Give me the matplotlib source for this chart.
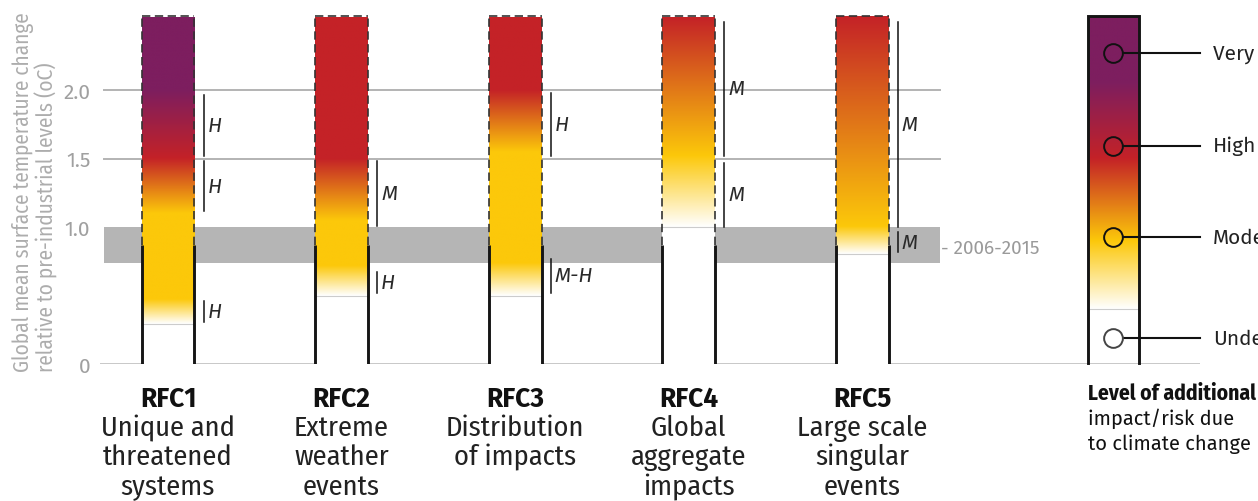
"""Reasons for concern (RFC1-5): risk level vs global mean warming, with confidence marks."""

import matplotlib
matplotlib.use("Agg")
import matplotlib.pyplot as plt
import numpy as np
from matplotlib.colors import to_rgb
from matplotlib.transforms import blended_transform_factory

COND = ["Fira Sans Condensed", "DejaVu Sans"]
REG = ["Fira Sans", "DejaVu Sans"]
plt.rcParams["font.family"] = REG

# --- data ------------------------------------------------------------------
RFC_NAMES = ["RFC1", "RFC2", "RFC3", "RFC4", "RFC5"]
RFC_DESC = [
    ["Unique and", "threatened", "systems"],
    ["Extreme", "weather", "events"],
    ["Distribution", "of impacts"],
    ["Global", "aggregate", "impacts"],
    ["Large scale", "singular", "events"],
]

# colour transitions of each bar: temperature (°C) -> risk colour
STOP_T = [
    [0.29, 0.47, 1.10, 1.50, 2.00, 2.53],
    [0.50, 0.72, 1.05, 1.50, 2.53],
    [0.50, 0.74, 1.55, 2.00, 2.53],
    [1.00, 1.52, 2.53],
    [0.80, 1.00, 2.53],
]
STOP_C = [
    ["white", "yellow", "yellow", "red", "purple", "purple"],
    ["white", "yellow", "yellow", "red", "red"],
    ["white", "yellow", "yellow", "red", "red"],
    ["white", "yellow", "red"],
    ["white", "yellow", "red"],
]

# confidence brackets: (low, high, label) per bar
CONF = [
    [(1.52, 1.96, "H"), (1.12, 1.48, "H"), (0.31, 0.46, "H")],
    [(1.01, 1.48, "M"), (0.52, 0.67, "H")],
    [(1.52, 1.98, "H"), (0.52, 0.77, "M-H")],
    [(1.52, 2.50, "M"), (1.00, 1.47, "M")],
    [(1.00, 2.50, "M"), (0.82, 0.96, "M")],
]

OBS_LO, OBS_HI, OBS_MID = 0.74, 1.00, 0.87   # 2006-2015 band
BAR_TOP = 2.53
YTICKS = [0, 1.0, 1.5, 2.0]
YTICK_LABELS = ["0", "1.0", "1.5", "2.0"]
GRID_T = [1.5, 2.0]

LEVELS = ["Very high", "High", "Moderate", "Undetectable"]
LEVEL_POS = [0.894, 0.626, 0.362, 0.072]
LEGEND_T = [0.0, 0.155, 0.352, 0.59, 0.81, 1.0]
LEGEND_C = ["white", "white", "yellow", "red", "purple", "purple"]
LEGEND_CAPTION = ["Level of additional", "impact/risk due", "to climate change"]

PALETTE = {
    "white": "#ffffff",
    "yellow": "#fcc80a",
    "red": "#c42227",
    "purple": "#7d1e5f",
}

W, H = 1258, 502


def gradient(ts, cs, lo, hi, n=400):
    grid = np.linspace(lo, hi, n)
    rgb = np.array([to_rgb(PALETTE[c]) for c in cs])
    img = np.stack([np.interp(grid, ts, rgb[:, k]) for k in range(3)], axis=-1)
    return img[:, None, :]


def main():
    fig = plt.figure(figsize=(W / 100, H / 100), dpi=100)

    # main axes: x is bar index, y is warming in °C
    ax = fig.add_axes([100 / W, (H - 365) / H, 1100 / W, 365 / H])
    x0, dx = 168, 173.6          # pixel centre of first bar, spacing
    ax.set_xlim((100 - x0) / dx, (1200 - x0) / dx)
    ax.set_ylim(0, 365 / 137)
    for s in ax.spines.values():
        s.set_visible(False)
    ax.set_xticks([])
    ax.set_yticks(YTICKS)
    ax.set_yticklabels(YTICK_LABELS, color="#a0a0a0", fontsize=15)
    ax.tick_params(axis="y", length=0, pad=7)

    fmin, fmax = 4 / 1100, 840 / 1100
    ax.axhspan(OBS_LO, OBS_HI, fmin, fmax, color="#b5b5b5", lw=0, zorder=1)
    for g in GRID_T:
        ax.axhline(g, fmin, fmax, color="#b3b3b3", lw=1.4, zorder=1)
    ax.axhline(0, color="#b8b8b8", lw=1.8, zorder=1)

    bw = 0.305
    for i, name in enumerate(RFC_NAMES):
        left, right = i - bw / 2, i + bw / 2
        t0 = STOP_T[i][0]
        ax.fill_between([left, right], 0, t0, color="white", lw=0, zorder=2)
        ax.plot([left, right], [t0, t0], color="#cccccc", lw=0.8, zorder=3)
        ax.imshow(gradient(STOP_T[i], STOP_C[i], t0, BAR_TOP), origin="lower",
                  extent=(left, right, t0, BAR_TOP), aspect="auto",
                  interpolation="bilinear", zorder=2.5)
        for xe in (left, right):
            ax.plot([xe, xe], [0, OBS_MID], color="#151515", lw=2.1,
                    solid_capstyle="butt", zorder=4)
            ax.plot([xe, xe], [OBS_MID, BAR_TOP + 0.012], color="#333333",
                    lw=1.2, ls=(0, (5, 2.7)), zorder=4)
        ax.plot([left, right], [BAR_TOP + 0.012] * 2, color="#333333",
                lw=1.2, ls=(0, (5, 2.7)), zorder=4)

        xl = right + 0.053
        for lo, hi, lab in CONF[i]:
            ax.plot([xl, xl], [lo, hi], color="#111111", lw=1.1, zorder=4)
            ax.text(xl + 0.022, (lo + hi) / 2, lab, fontsize=15, style="italic",
                    color="#2a2a2a", va="center", ha="left", zorder=5)

    ax.text((941 - x0) / dx, 0.85, "- 2006-2015", fontsize=13.7, color="#9a9a9a",
            va="center", ha="left")

    # labels under the bars
    tr = blended_transform_factory(ax.transData, fig.transFigure)
    for i, name in enumerate(RFC_NAMES):
        ax.text(i, (H - 407) / H, name, transform=tr, ha="center",
                va="baseline", fontsize=19, fontweight="bold", color="#111111")
        for k, line in enumerate(RFC_DESC[i]):
            ax.text(i, (H - 436 - 29.5 * k) / H, line, transform=tr,
                    ha="center", va="baseline", fontsize=20.5, color="#222222",
                    family=COND)

    fig.text(35 / W, (H - 372) / H,
             "Global mean surface temperature change\n"
             "relative to pre-industrial levels (oC)",
             rotation=90, ha="center", va="bottom", multialignment="left",
             fontsize=15.3, color="#adadad", linespacing=1.0, family=COND)

    # legend scale
    lax = fig.add_axes([1060 / W, (H - 364) / H, 198 / W, 347 / H])
    lax.set_xlim(0, 1)
    lax.set_ylim(0, 1)
    lax.axis("off")
    bl, br = 0.141, 0.399
    lax.imshow(gradient(LEGEND_T, LEGEND_C, 0, 1), origin="lower",
               extent=(bl, br, 0, 1), aspect="auto", interpolation="bilinear")
    lax.plot([bl, br], [LEGEND_T[1]] * 2, color="#cccccc", lw=0.8)
    lax.plot([bl, bl, br, br], [0, 1, 1, 0], color="#151515", lw=2.1,
             solid_joinstyle="miter", clip_on=False)
    lax.set_xlim(0, 1)
    lax.set_ylim(0, 1)
    cx = 0.27
    for k, (lab, y) in enumerate(zip(LEVELS, LEVEL_POS)):
        last = k == len(LEVELS) - 1
        lax.plot([cx + 0.046, 0.707], [y, y], color="#111111", lw=1.5)
        lax.plot(cx, y, "o", ms=13.5, mfc="white" if last else "none",
                 mec="#444444" if last else "#111111", mew=1.4)
        lax.text(0.773, y, lab, fontsize=15, color="#222222", va="center",
                 ha="left", clip_on=False)

    for k, line in enumerate(LEGEND_CAPTION):
        bold = k == 0
        fig.text(1088 / W, (H - 400 - 25 * k) / H, line,
                 fontsize=15.5 if bold else 14.5,
                 fontweight="bold" if bold else "normal",
                 family=COND if bold else REG,
                 color="#111111", va="baseline")

    fig.savefig("out.png", dpi=100, facecolor="white")


if __name__ == "__main__":
    main()
